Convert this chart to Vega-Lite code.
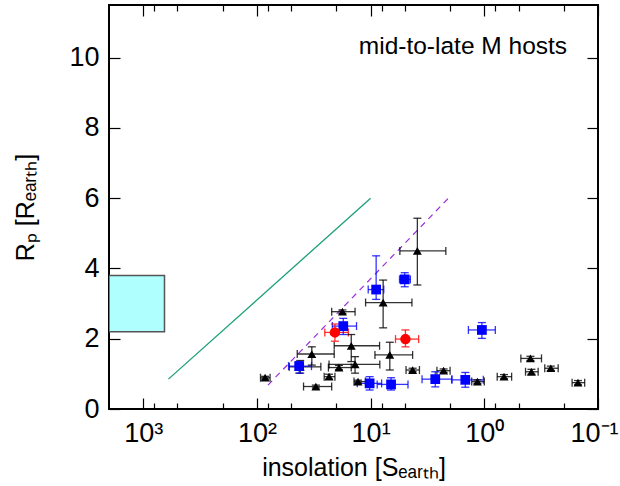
{
  "$schema": "https://vega.github.io/schema/vega-lite/v6.json",
  "width": 489,
  "height": 404,
  "autosize": {"type": "none"},
  "padding": {"left": 109, "top": 5, "right": 22, "bottom": 77},
  "background": "white",
  "config": {
    "font": "Liberation Sans",
    "view": {"stroke": "black", "strokeWidth": 2},
    "axis": {"domain": false, "grid": false, "tickColor": "black", "labelColor": "black", "titleColor": "black", "labelFont": "Liberation Sans", "titleFont": "Liberation Sans", "titleFontWeight": "normal"}
  },
  "datasets": {
    "pts": [
      {"g": "t", "S": 3.88, "Slo": 2.18, "Shi": 5.53, "R": 4.50, "Rlo": 3.53, "Rhi": 5.43},
      {"g": "t", "S": 7.76, "Slo": 4.33, "Shi": 11.07, "R": 3.03, "Rlo": 2.31, "Rhi": 3.67},
      {"g": "t", "S": 17.7, "Slo": 13.7, "Shi": 22.0, "R": 2.77, "Rlo": 2.72, "Rhi": 2.82},
      {"g": "t", "S": 14.8, "Slo": 8.34, "Shi": 20.9, "R": 1.80, "Rlo": 1.35, "Rhi": 2.12},
      {"g": "t", "S": 6.78, "Slo": 4.27, "Shi": 9.16, "R": 1.54, "Rlo": 1.11, "Rhi": 1.90},
      {"g": "t", "S": 32.9, "Slo": 20.9, "Shi": 44.2, "R": 1.565, "Rlo": 1.25, "Rhi": 1.77},
      {"g": "t", "S": 13.7, "Slo": 8.3, "Shi": 23.2, "R": 1.27, "Rlo": 1.02, "Rhi": 1.49},
      {"g": "t", "S": 19.0, "Slo": 14.8, "Shi": 23.5, "R": 1.18, "Rlo": 1.12, "Rhi": 1.24},
      {"g": "t", "S": 23.2, "Slo": 20.6, "Shi": 25.6, "R": 0.92, "Rlo": 0.85, "Rhi": 0.99},
      {"g": "t", "S": 30.3, "Slo": 22.0, "Shi": 38.9, "R": 0.64, "Rlo": 0.60, "Rhi": 0.68},
      {"g": "t", "S": 84.7, "Slo": 76.6, "Shi": 93, "R": 0.89, "Rlo": 0.85, "Rhi": 0.93},
      {"g": "t", "S": 12.9, "Slo": 11.1, "Shi": 14.0, "R": 0.78, "Rlo": 0.74, "Rhi": 0.82},
      {"g": "t", "S": 4.27, "Slo": 3.72, "Shi": 4.88, "R": 1.11, "Rlo": 1.06, "Rhi": 1.16},
      {"g": "t", "S": 2.28, "Slo": 2.0, "Shi": 2.61, "R": 1.09, "Rlo": 1.04, "Rhi": 1.14},
      {"g": "t", "S": 1.15, "Slo": 1.0, "Shi": 1.29, "R": 0.78, "Rlo": 0.73, "Rhi": 0.83},
      {"g": "t", "S": 0.671, "Slo": 0.575, "Shi": 0.77, "R": 0.92, "Rlo": 0.86, "Rhi": 0.98},
      {"g": "t", "S": 0.393, "Slo": 0.314, "Shi": 0.477, "R": 1.44, "Rlo": 1.38, "Rhi": 1.50},
      {"g": "t", "S": 0.385, "Slo": 0.336, "Shi": 0.434, "R": 1.06, "Rlo": 0.99, "Rhi": 1.13},
      {"g": "t", "S": 0.260, "Slo": 0.224, "Shi": 0.294, "R": 1.16, "Rlo": 1.10, "Rhi": 1.22},
      {"g": "t", "S": 0.150, "Slo": 0.131, "Shi": 0.169, "R": 0.75, "Rlo": 0.69, "Rhi": 0.81},
      {"g": "t", "S": 41.6, "Slo": 27.4, "Shi": 51.9, "R": 1.20, "Rlo": 1.02, "Rhi": 1.38},
      {"g": "s", "S": 5.01, "Slo": 4.47, "Shi": 5.57, "R": 3.69, "Rlo": 3.48, "Rhi": 3.88},
      {"g": "s", "S": 8.94, "Slo": 7.66, "Shi": 10.5, "R": 3.40, "Rlo": 3.12, "Rhi": 4.36},
      {"g": "s", "S": 17.4, "Slo": 13.3, "Shi": 21.7, "R": 2.36, "Rlo": 2.12, "Rhi": 2.58},
      {"g": "s", "S": 1.05, "Slo": 0.80, "Shi": 1.38, "R": 2.25, "Rlo": 2.01, "Rhi": 2.46},
      {"g": "s", "S": 42.5, "Slo": 33.1, "Shi": 52.7, "R": 1.22, "Rlo": 1.02, "Rhi": 1.35},
      {"g": "s", "S": 10.2, "Slo": 8.0, "Shi": 13.1, "R": 0.73, "Rlo": 0.54, "Rhi": 0.92},
      {"g": "s", "S": 6.61, "Slo": 4.69, "Shi": 8.75, "R": 0.70, "Rlo": 0.54, "Rhi": 0.89},
      {"g": "s", "S": 2.70, "Slo": 1.93, "Shi": 3.53, "R": 0.85, "Rlo": 0.63, "Rhi": 1.06},
      {"g": "s", "S": 1.47, "Slo": 1.02, "Shi": 1.93, "R": 0.83, "Rlo": 0.62, "Rhi": 1.04},
      {"g": "c", "S": 20.6, "Slo": 15.7, "Shi": 25.3, "R": 2.18, "Rlo": 1.93, "Rhi": 2.42},
      {"g": "c", "S": 4.94, "Slo": 3.78, "Shi": 6.04, "R": 1.99, "Rlo": 1.77, "Rhi": 2.25}
    ],
    "lines": [
      {"k": "green", "S": 600, "R": 0.85},
      {"k": "green", "S": 10, "R": 6.0},
      {"k": "purple", "S": 80, "R": 0.68},
      {"k": "purple", "S": 2.0, "R": 6.05}
    ],
    "box": [
      {"S1": 2000, "S2": 650, "R1": 2.2, "R2": 3.8}
    ]
  },
  "layer": [
    {
      "layer": [
        {
          "data": {"name": "box"},
          "mark": {"type": "rect", "fill": "#b0ffff", "stroke": "#555555", "strokeWidth": 1.5, "clip": true},
          "encoding": {
            "x": {"field": "S1", "type": "quantitative",
              "scale": {"type": "log", "domain": [0.1, 2000], "reverse": true, "nice": false},
              "axis": {
                "orient": "bottom",
                "values": [1000, 800, 500, 200, 100, 80, 50, 20, 10, 8, 5, 2, 1, 0.8, 0.5, 0.2, 0.1],
                "labelExpr": "abs(datum.value-1000)<1e-6 ? '10³' : abs(datum.value-100)<1e-6 ? '10²' : abs(datum.value-10)<1e-6 ? '10¹' : abs(datum.value-1)<1e-6 ? '10⁰' : abs(datum.value-0.1)<1e-6 ? '10⁻¹' : ''",
                "tickSize": {"condition": {"test": "abs(log(datum.value)/LN10 - round(log(datum.value)/LN10)) < 0.01", "value": -11}, "value": -6},
                "tickWidth": 1.2,
                "labelFontSize": 27,
                "labelPadding": 22,
                "labelOffset": {"condition": {"test": "datum.value < 0.15", "value": -4}, "value": 0},
                "labelFlush": false,
                "labelOverlap": false,
                "title": "insolation [Sₑₐᵣₜₕ]",
                "titleFontSize": 25,
                "titlePadding": 4
              }
            },
            "x2": {"field": "S2"},
            "y": {"field": "R1", "type": "quantitative",
              "scale": {"domain": [0, 11.5], "nice": false, "zero": true},
              "axis": {
                "orient": "left",
                "values": [0, 2, 4, 6, 8, 10],
                "tickSize": -11,
                "tickWidth": 1.2,
                "labelFontSize": 27,
                "labelPadding": 21,
                "labelFlush": false,
                "title": "Rₚ [Rₑₐᵣₜₕ]",
                "titleFontSize": 25,
                "titlePadding": 30
              }
            },
            "y2": {"field": "R2"}
          }
        },
        {
          "data": {"name": "lines"},
          "transform": [{"filter": "datum.k == 'green'"}],
          "mark": {"type": "line", "color": "#1a9f7a", "strokeWidth": 1.3, "clip": true},
          "encoding": {
            "x": {"field": "S", "type": "quantitative"},
            "y": {"field": "R", "type": "quantitative"}
          }
        },
        {
          "data": {"name": "lines"},
          "transform": [{"filter": "datum.k == 'purple'"}],
          "mark": {"type": "line", "color": "#9a2ee0", "strokeWidth": 1.2, "strokeDash": [6, 5], "clip": true},
          "encoding": {
            "x": {"field": "S", "type": "quantitative"},
            "y": {"field": "R", "type": "quantitative"}
          }
        },
        {
          "data": {"name": "pts"},
          "mark": {"type": "rule", "strokeWidth": 1.3, "opacity": 0.8},
          "encoding": {
            "x": {"field": "Slo", "type": "quantitative"},
            "x2": {"field": "Shi"},
            "y": {"field": "R", "type": "quantitative"},
            "color": {"field": "g", "type": "nominal", "scale": {"domain": ["t", "s", "c"], "range": ["#000000", "#0000ff", "#ff0000"]}, "legend": null}
          }
        },
        {
          "data": {"name": "pts"},
          "mark": {"type": "rule", "strokeWidth": 1.3, "opacity": 0.8},
          "encoding": {
            "x": {"field": "S", "type": "quantitative"},
            "y": {"field": "Rlo", "type": "quantitative"},
            "y2": {"field": "Rhi"},
            "color": {"field": "g", "type": "nominal", "legend": null}
          }
        },
        {
          "data": {"name": "pts"},
          "mark": {"type": "tick", "orient": "vertical", "size": 8, "thickness": 1.3, "opacity": 0.8},
          "encoding": {
            "x": {"field": "Slo", "type": "quantitative"},
            "y": {"field": "R", "type": "quantitative"},
            "color": {"field": "g", "type": "nominal", "legend": null}
          }
        },
        {
          "data": {"name": "pts"},
          "mark": {"type": "tick", "orient": "vertical", "size": 8, "thickness": 1.3, "opacity": 0.8},
          "encoding": {
            "x": {"field": "Shi", "type": "quantitative"},
            "y": {"field": "R", "type": "quantitative"},
            "color": {"field": "g", "type": "nominal", "legend": null}
          }
        },
        {
          "data": {"name": "pts"},
          "mark": {"type": "tick", "orient": "horizontal", "size": 8, "thickness": 1.3, "opacity": 0.8},
          "encoding": {
            "x": {"field": "S", "type": "quantitative"},
            "y": {"field": "Rlo", "type": "quantitative"},
            "color": {"field": "g", "type": "nominal", "legend": null}
          }
        },
        {
          "data": {"name": "pts"},
          "mark": {"type": "tick", "orient": "horizontal", "size": 8, "thickness": 1.3, "opacity": 0.8},
          "encoding": {
            "x": {"field": "S", "type": "quantitative"},
            "y": {"field": "Rhi", "type": "quantitative"},
            "color": {"field": "g", "type": "nominal", "legend": null}
          }
        },
        {
          "data": {"name": "pts"},
          "mark": {"type": "point", "filled": true, "opacity": 1},
          "encoding": {
            "x": {"field": "S", "type": "quantitative"},
            "y": {"field": "R", "type": "quantitative"},
            "color": {"field": "g", "type": "nominal", "legend": null},
            "shape": {"field": "g", "type": "nominal", "scale": {"domain": ["t", "s", "c"], "range": ["triangle-up", "square", "circle"]}, "legend": null},
            "size": {"field": "g", "type": "nominal", "scale": {"domain": ["t", "s", "c"], "range": [80, 110, 85]}, "legend": null}
          }
        },
        {
          "data": {"values": [{"label": "mid-to-late M hosts"}]},
          "mark": {"type": "text", "align": "right", "baseline": "middle", "fontSize": 24.5, "font": "Liberation Sans", "color": "black"},
          "encoding": {
            "text": {"field": "label"},
            "x": {"datum": 0.187, "type": "quantitative"},
            "y": {"datum": 10.3, "type": "quantitative"}
          }
        }
      ]
    },
    {
      "data": {"name": "box"},
      "mark": {"type": "point", "opacity": 0},
      "encoding": {
        "x": {"field": "S2", "type": "quantitative",
          "axis": {
            "orient": "top",
            "values": [1000, 800, 500, 200, 100, 80, 50, 20, 10, 8, 5, 2, 1, 0.8, 0.5, 0.2, 0.1],
            "labels": false,
            "title": null,
            "tickSize": {"condition": {"test": "abs(log(datum.value)/LN10 - round(log(datum.value)/LN10)) < 0.01", "value": -11}, "value": -6},
            "tickWidth": 1.2
          }
        },
        "y": {"field": "R2", "type": "quantitative",
          "axis": {
            "orient": "right",
            "values": [0, 2, 4, 6, 8, 10],
            "labels": false,
            "title": null,
            "tickSize": -11,
            "tickWidth": 1.2
          }
        }
      }
    }
  ],
  "resolve": {"axis": {"x": "independent", "y": "independent"}}
}
